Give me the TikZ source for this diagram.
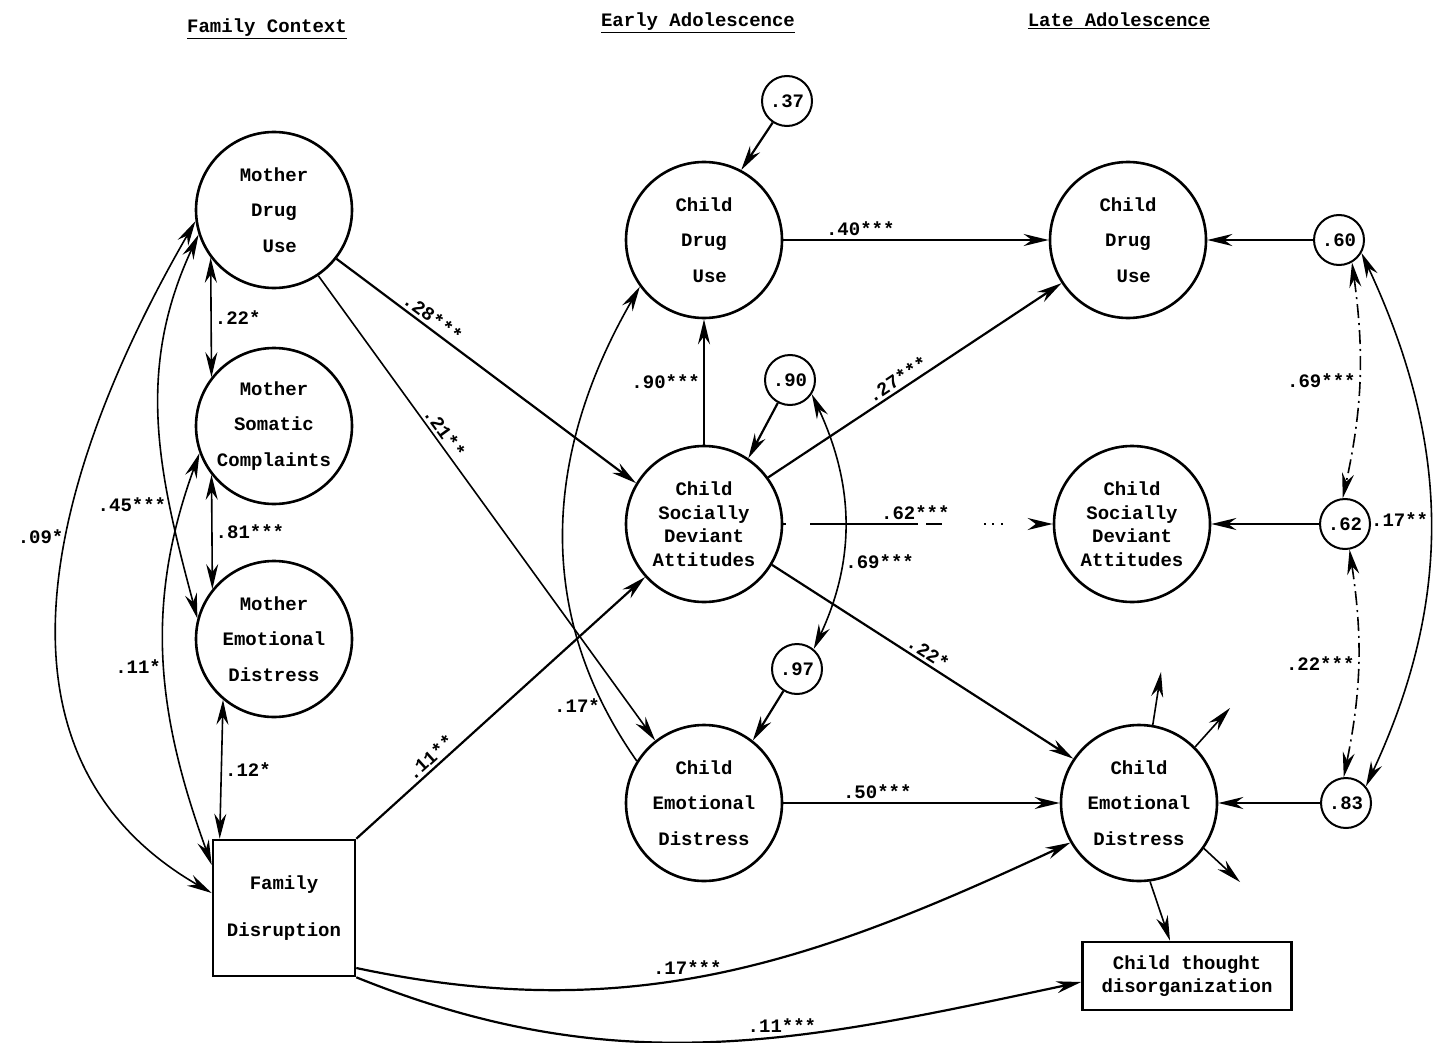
\documentclass[tikz,border=0pt]{standalone}
\usepackage{fontspec}
\setmonofont{Liberation Mono}
\usetikzlibrary{positioning, arrows.meta, shapes}
\tikzset{
    ->, % connectors are directed
    >={Stealth[length=25pt, width=12pt]}, % long narrow heads
    every node/.style={font=\ttfamily\bfseries\fontsize{19}{23.5}\selectfont},
    latent/.style={draw, circle, minimum size=156pt, inner sep=0pt, align=center, line width=2.6pt}, % big circles
    resid/.style={draw, circle, minimum size=50pt, inner sep=0pt, line width=2pt}, % residual circles
    observed/.style={draw, rectangle, align=center, line width=2.6pt},
    coef/.style={inner sep=3pt},
    thin curve/.style={line width=1.6pt},
    dashdot/.style={dash pattern=on 14pt off 5pt on 2pt off 5pt},
    brokenline/.style={dash pattern=on 3pt off 24pt on 108pt off 8pt on 16pt off 42pt on 2pt off 6pt on 2pt off 7pt on 2pt off 40pt},
}
\begin{document}
\begin{tikzpicture}[x=1pt, y=-1pt, line width=2.2pt]
    \useasboundingbox (0,0) rectangle (1439,1043);

    % headings
    \node (hfam) at (267,29) {\underline{Family Context}};
    \node (hearly) at (698,23) {\underline{Early Adolescence}};
    \node (hlate) at (1119,21) {\underline{Late Adolescence}};

    % family context
    \node[latent] (mdu) at (274,210) {Mother\\[12pt]Drug\\[12pt]~Use};
    \node[latent, node distance=216pt, below of=mdu] (msc) {Mother\\[12pt]Somatic\\[12pt]Complaints};
    \node[latent, node distance=213pt, below of=msc] (med) {Mother\\[12pt]Emotional\\[12pt]Distress};
    \node[observed, minimum width=142pt, minimum height=136pt] (fd) at (284,908) {Family\\[24pt]Disruption};

    % early adolescence
    \node[latent] (cdu) at (704,240) {Child\\[12pt]Drug\\[12pt]~Use};
    \node[latent, node distance=284pt, below of=cdu] (csda) {Child\\Socially\\Deviant\\Attitudes};
    \node[latent, node distance=279pt, below of=csda] (ced) {Child\\[12pt]Emotional\\[12pt]Distress};
    \node[resid] (r37) at (787,101) {.37};
    \node[resid] (r90) at (790,380) {.90};
    \node[resid] (r97) at (797,669) {.97};

    % late adolescence
    \node[latent, node distance=424pt, right of=cdu] (ldu) {Child\\[12pt]Drug\\[12pt]~Use};
    \node[latent, node distance=428pt, right of=csda] (lsda) {Child\\Socially\\Deviant\\Attitudes};
    \node[latent, node distance=435pt, right of=ced] (led) {Child\\[12pt]Emotional\\[12pt]Distress};
    \node[resid, node distance=211pt, right of=ldu] (r60) {.60};
    \node[resid, node distance=213pt, right of=lsda] (r62) {.62};
    \node[resid, node distance=207pt, right of=led] (r83) {.83};
    \node[observed, minimum width=209pt, minimum height=68pt] (cto) at (1187,976) {Child thought\\disorganization};
    \coordinate (outA) at (1161,672);
    \coordinate (outB) at (1230,708);
    \coordinate (outC) at (1240,882);

    % family context correlations
    \path[<->, thin curve]
        (mdu.217) edge node[right, coef]{.22*} (msc.142)
        (msc.218) edge node[right, coef]{.81***} (med.141)
        (med.230) edge node[right, coef]{.12*} ([xshift=8pt]fd.north west)
        (mdu.188) edge[out=240, in=150, looseness=1.07] node[pos=0.42, left, coef]{.09*} ([yshift=15pt]fd.west)
        (mdu.198) edge[out=245, in=105] node[pos=0.72, left, coef]{.45***} (med.165)
        (msc.200) edge[out=250, in=110] node[pos=0.52, left, coef]{.11*} ([yshift=43pt]fd.west);

    % family context -> child
    \path[->]
        (mdu.-38) edge node[sloped, above, pos=0.3, coef]{.28***} (csda.149)
        (mdu.-56) edge[thin curve] node[sloped, above, pos=0.35, coef]{.21**} (ced.128)
        (fd.north east) edge node[sloped, above, pos=0.28, coef]{.11**} (csda.222)
        ([yshift=-60pt]fd.east) edge[out=-12, in=205] node[pos=0.45, above, coef]{.17***} (led.210)
        (fd.south east) edge[out=-22, in=192] node[pos=0.6, above, coef]{.11***} ([yshift=-6pt]cto.west);

    % early -> late adolescence
    \path[->]
        (cdu.east) edge node[above, pos=0.29, coef]{.40***} (ldu.west)
        (csda.north) edge node[left, coef]{.90***} (cdu.south)
        (csda.36) edge node[sloped, above, pos=0.46, coef]{.27***} (ldu.213)
        (csda.east) edge[brokenline] node[above, pos=0.49, coef]{.62***} (lsda.west)
        (csda.-31) edge node[sloped, above, pos=0.5, coef]{.22*} (led.146)
        (ced.east) edge node[above, pos=0.34, coef]{.50***} (led.west)
        (ced.148) edge[thin curve, out=125, in=240] node[pos=0.12, left, coef]{.17*} (cdu.216);

    % residuals and outcome
    \path[->]
        (r37) edge (cdu.62)
        (r90) edge (csda.56)
        (r97) edge (ced.52)
        (r60) edge (ldu)
        (r62) edge (lsda)
        (r83) edge (led)
        (led.80) edge[thin curve] (outA)
        (led.45) edge[thin curve] (outB)
        (led.-35) edge[thin curve] (outC)
        (led.-82) edge[thin curve] ([xshift=-17pt]cto.north);

    % correlated residuals
    \path[<->, thin curve]
        (r90.-33) edge[out=-65, in=65] node[right, pos=0.66, coef]{.69***} (r97.50)
        (r60.-60) edge[dashdot, bend left=10] node[left, coef]{.69***} (r62.95)
        (r62.-80) edge[dashdot, bend left=10] node[left, coef]{.22***} (r83.95)
        (r60.-30) edge[out=-65, in=65] node[left, inner sep=1pt]{.17**} (r83.40);
\end{tikzpicture}
\end{document}
